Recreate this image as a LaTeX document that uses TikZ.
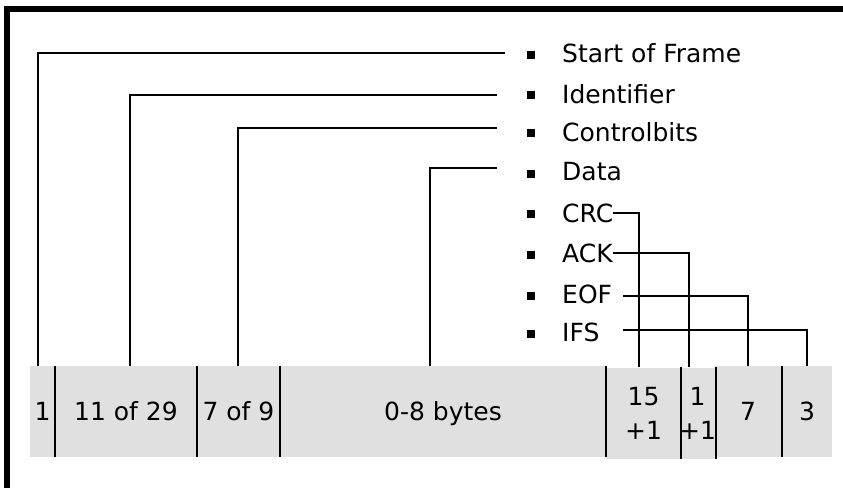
\documentclass[tikz,border=0pt]{standalone}
\usepackage{fontspec}
\setmainfont{DejaVu Sans}
\definecolor{bandgray}{HTML}{E0E0E0}
\begin{document}
\begin{tikzpicture}[x=1pt,y=-1pt,
  cell/.style={rectangle,fill=bandgray,draw=none,inner sep=0pt,minimum height=91pt,
     font=\fontsize{25}{34}\selectfont,text height=18.2pt,text depth=0pt},
  cell2/.style={rectangle,fill=bandgray,draw=none,inner sep=0pt,minimum height=91pt,
     font=\fontsize{25}{34}\selectfont,align=center},
  lbl/.style={anchor=west,inner sep=0pt,font=\fontsize{25}{30}\selectfont},
  bul/.style={rectangle,fill=black,inner sep=0pt,minimum size=8pt},
  lead/.style={line width=1.8pt},
  divider/.style={line width=1.8pt}]
\useasboundingbox (0,0) rectangle (843,488);
% frame edges
\draw[line width=6pt] (4,9) -- (843,9);
\draw[line width=6pt] (7,6) -- (7,488);
% band cells
\node[cell,minimum width=25pt]  (c1) at (42.5,411.5) {1};
\node[cell,minimum width=142pt] (c2) at (126,411.5) {11 of 29};
\node[cell,minimum width=83pt]  (c3) at (238.5,411.5) {7 of 9};
\node[cell,minimum width=326pt] (c4) at (443,411.5) {0-8 bytes};
\node[cell2,minimum width=75pt] (c5) at (643.5,413) {15\\+1};
\node[cell2,minimum width=33pt] (c6) at (697.5,413) {1\\+1};
\node[cell,minimum width=68pt]  (c7) at (748,411.5) {7};
\node[cell,minimum width=50pt]  (c8) at (807,411.5) {3};
% dividers
\foreach \c in {c1,c2,c3,c4,c5,c6,c7}
  \draw[divider] (\c.north east) -- (\c.south east);
% bullets and labels
\node[bul] (b1) at (531,55) {};
\node[lbl] (l1) at (562,53) {Start of Frame};
\node[bul] (b2) at (531,95) {};
\node[lbl] (l2) at (562,94) {Identifier};
\node[bul] (b3) at (531,133) {};
\node[lbl] (l3) at (562,132) {Controlbits};
\node[bul] (b4) at (531,174) {};
\node[lbl] (l4) at (562,172) {Data};
\node[bul] (b5) at (531,214) {};
\node[lbl] (l5) at (562,213) {CRC};
\node[bul] (b6) at (531,255) {};
\node[lbl] (l6) at (562,253) {ACK};
\node[bul] (b7) at (531,296) {};
\node[lbl] (l7) at (562,294) {EOF};
\node[bul] (b8) at (531,334) {};
\node[lbl] (l8) at (562,332) {IFS};
% leader end points
\coordinate (e1) at (505,53);
\coordinate (e2) at (497,95);
\coordinate (e3) at (497,128);
\coordinate (e4) at (497,168);
\coordinate (e7) at (623,296);
\coordinate (e8) at (623,330);
% leaders
\draw[lead] (e1) -| ([xshift=-4.5pt]c1.north);
\draw[lead] (e2) -| ([xshift=4pt]c2.north);
\draw[lead] (e3) -| ([xshift=-0.5pt]c3.north);
\draw[lead] (e4) -| ([xshift=-13pt]c4.north);
\draw[lead] (l5.east) -| ([xshift=-4.5pt]c5.north);
\draw[lead] (l6.east) -| ([xshift=-8.5pt]c6.north);
\draw[lead] (e7) -| (c7.north);
\draw[lead] (e8) -| (c8.north);
\end{tikzpicture}
\end{document}
